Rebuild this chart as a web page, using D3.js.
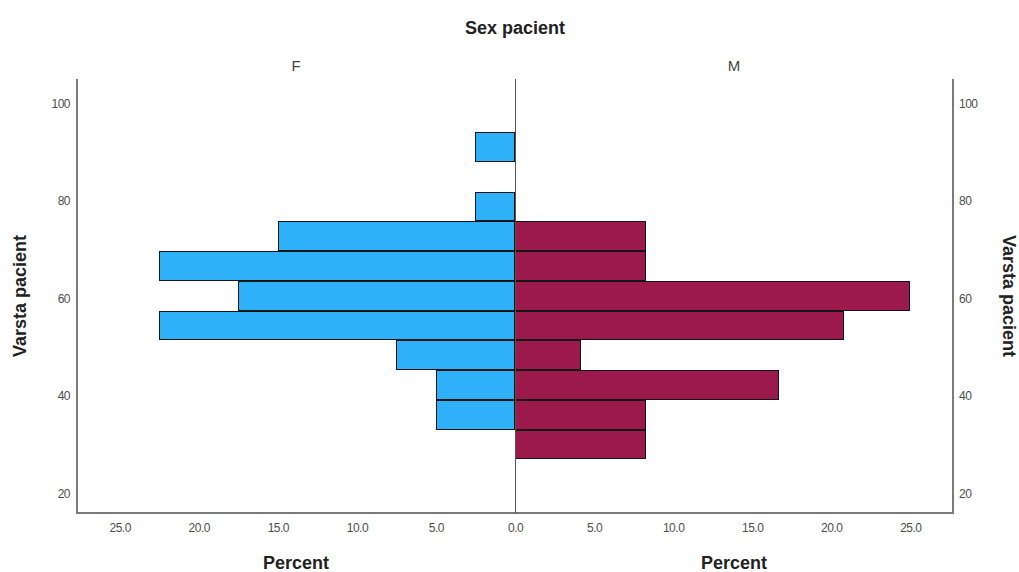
<!DOCTYPE html>
<html>
<head>
<meta charset="utf-8">
<script src="https://cdn.jsdelivr.net/npm/d3@7"></script>
<style>
  body { margin: 0; background: #fff; }
  text { font-family: "Liberation Sans", Arial, sans-serif; }
</style>
</head>
<body>
<script>
// Age bins (lower / upper edge, years) of the population pyramid
const binLow  = [27.0, 33.1, 39.2, 45.3, 51.4, 57.5, 63.6, 69.7, 75.8, 81.9, 88.0];
const binHigh = [33.1, 39.2, 45.3, 51.4, 57.5, 63.6, 69.7, 75.8, 81.9, 88.0, 94.1];

// Percent per bin for each sex
const femalePct = [0, 5.0, 5.0, 7.5, 22.5, 17.5, 22.5, 15.0, 2.5, 0, 2.5];
const malePct   = [8.3, 8.3, 16.7, 4.2, 20.8, 25.0, 8.3, 8.3, 0, 0, 0];

const panelLabels = ["F", "M"];
const ageTicks = [20, 40, 60, 80, 100];
const pctTicks = [0, 5, 10, 15, 20, 25];

const W = 1019, H = 572;
const pLeft = 77, pMid = 515, pRight = 953, pTop = 79, pBottom = 513;

const svg = d3.select("body").append("svg")
  .attr("width", W)
  .attr("height", H);

// scales
const y = d3.scaleLinear().domain([16, 105]).range([pBottom, pTop]);
const xF = d3.scaleLinear().domain([0, 27.7]).range([pMid, pLeft]);
const xM = d3.scaleLinear().domain([0, 27.7]).range([pMid, pRight]);

const colF = "#2eb1f8", colM = "#9c1a4b";

// bars - snapped to whole pixels so shared edges give one dark 2px line
function drawBars(vals, xs, fill) {
  const rows = vals.map((v, i) => ({v: v, lo: binLow[i], hi: binHigh[i]}))
    .filter(d => d.v > 0);
  svg.append("g").selectAll("rect")
    .data(rows)
    .enter()
    .append("rect")
    .attr("x", d => Math.round(Math.min(xs(0), xs(d.v))) + 0.5)
    .attr("y", d => Math.round(y(d.hi)) + 0.5)
    .attr("width", d => Math.round(Math.abs(xs(d.v) - xs(0))) - 1)
    .attr("height", d => Math.round(y(d.lo)) - Math.round(y(d.hi)) - 1)
    .attr("fill", fill)
    .attr("stroke", "#141414")
    .attr("stroke-width", 1);
}
drawBars(femalePct, xF, colF);
drawBars(malePct, xM, colM);

// frame lines
const frame = svg.append("g").attr("stroke", "#7a7a7a").attr("fill", "none");
frame.append("path")
  .attr("d", `M${pLeft},${pTop}V${pBottom}H${pRight}V${pTop}`)
  .attr("stroke-width", 2);
frame.append("line")
  .attr("x1", pMid + 0.5).attr("x2", pMid + 0.5)
  .attr("y1", pTop).attr("y2", pBottom)
  .attr("stroke", "#555")
  .attr("stroke-width", 1);

// y axes (labels only)
const yAxL = svg.append("g")
  .attr("transform", `translate(${pLeft},0)`)
  .call(d3.axisLeft(y).tickValues(ageTicks).tickSize(0).tickPadding(7));
const yAxR = svg.append("g")
  .attr("transform", `translate(${pRight},0)`)
  .call(d3.axisRight(y).tickValues(ageTicks).tickSize(0).tickPadding(6));

// x axes
const fmt = d3.format(".1f");
const xAxF = svg.append("g")
  .attr("transform", `translate(0,${pBottom})`)
  .call(d3.axisBottom(xF).tickValues(pctTicks.slice(1)).tickSize(0).tickPadding(10).tickFormat(fmt));
const xAxM = svg.append("g")
  .attr("transform", `translate(0,${pBottom})`)
  .call(d3.axisBottom(xM).tickValues(pctTicks).tickSize(0).tickPadding(10).tickFormat(fmt));

[yAxL, yAxR, xAxF, xAxM].forEach(a => {
  a.select(".domain").remove();
  a.selectAll("text")
    .style("font-family", "'Liberation Sans', Arial, sans-serif")
    .style("font-size", "12px")
    .style("letter-spacing", "-0.5px")
    .attr("fill", "#4d4d4d");
});

// titles
svg.append("text")
  .attr("x", pMid).attr("y", 34)
  .attr("text-anchor", "middle")
  .style("font-size", "18px").style("font-weight", "bold")
  .attr("fill", "#222")
  .text("Sex pacient");

svg.selectAll(".panel")
  .data(panelLabels)
  .enter()
  .append("text")
  .attr("x", (d, i) => i === 0 ? (pLeft + pMid) / 2 : (pMid + pRight) / 2)
  .attr("y", 71)
  .attr("text-anchor", "middle")
  .style("font-size", "15px")
  .attr("fill", "#444")
  .text(d => d);

svg.append("text")
  .attr("transform", `translate(26,${(pTop + pBottom) / 2}) rotate(-90)`)
  .attr("text-anchor", "middle")
  .style("font-size", "18px").style("font-weight", "bold")
  .attr("fill", "#222")
  .text("Varsta pacient");

svg.append("text")
  .attr("transform", `translate(1003,${(pTop + pBottom) / 2}) rotate(90)`)
  .attr("text-anchor", "middle")
  .style("font-size", "18px").style("font-weight", "bold")
  .attr("fill", "#222")
  .text("Varsta pacient");

svg.selectAll(".xlab")
  .data(["Percent", "Percent"])
  .enter()
  .append("text")
  .attr("x", (d, i) => i === 0 ? (pLeft + pMid) / 2 : (pMid + pRight) / 2)
  .attr("y", 569)
  .attr("text-anchor", "middle")
  .style("font-size", "18px").style("font-weight", "bold")
  .attr("fill", "#222")
  .text(d => d);
</script>
</body>
</html>
